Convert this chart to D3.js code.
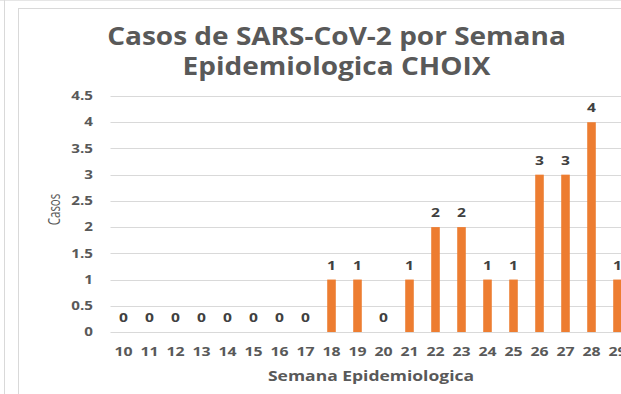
<!DOCTYPE html>
<html>
<head>
<meta charset="utf-8">
<script src="https://cdn.jsdelivr.net/npm/d3@7"></script>
<style>
  html, body { margin: 0; padding: 0; background: #fff; }
  svg { display: block; }
  text { font-family: "Open Sans", "DejaVu Sans", sans-serif; }
</style>
</head>
<body>
<svg id="chart" width="621" height="394"></svg>
<script>
// Semanas epidemiológicas y casos confirmados por semana
const weeks = [10, 11, 12, 13, 14, 15, 16, 17, 18, 19, 20, 21, 22, 23, 24, 25, 26, 27, 28, 29];
const cases = [0, 0, 0, 0, 0, 0, 0, 0, 1, 1, 0, 1, 2, 2, 1, 1, 3, 3, 4, 1];
const yTicks = [0, 0.5, 1, 1.5, 2, 2.5, 3, 3.5, 4, 4.5];
const titleLines = ["Casos de SARS-CoV-2 por Semana", "Epidemiologica CHOIX"];
const xTitle = "Semana Epidemiologica";
const yTitle = "Casos";

const svg = d3.select("#chart");
const W = 621, H = 394;
const plot = { left: 110.5, top: 96, bottom: 332, step: 26 };

// the text is set in a widened face: every label is stretched horizontally
function stretchedText(parent, x, y, sx, str) {
  return parent.append("text")
    .attr("transform", `translate(${x},${y}) scale(${sx},1)`)
    .text(str);
}

// outer sheet edges and chart frame
svg.append("line").attr("x1", 0).attr("x2", W).attr("y1", 0.5).attr("y2", 0.5)
  .attr("stroke", "#e6e6e6");
svg.append("line").attr("x1", 4.5).attr("x2", 4.5).attr("y1", 0).attr("y2", H)
  .attr("stroke", "#d9d9d9");
svg.append("rect").attr("x", 18.5).attr("y", 8.5).attr("width", W).attr("height", H)
  .attr("fill", "#fff").attr("stroke", "#d9d9d9");

const x = d3.scaleBand()
  .domain(weeks)
  .range([plot.left, plot.left + plot.step * weeks.length])
  .paddingInner(0.67)
  .paddingOuter(0.335);

const y = d3.scaleLinear().domain([0, 4.5]).range([plot.bottom, plot.top]);

// horizontal gridlines
svg.append("g")
  .selectAll("line")
  .data(yTicks)
  .join("line")
  .attr("x1", plot.left)
  .attr("x2", W)
  .attr("y1", d => Math.round(y(d)) + 0.5)
  .attr("y2", d => Math.round(y(d)) + 0.5)
  .attr("stroke", "#d9d9d9")
  .attr("stroke-width", 1);

// y axis tick labels
const yAxis = d3.axisLeft(y).tickValues(yTicks).tickSize(0).tickPadding(0)
  .tickFormat(d3.format("~g"));
const gy = svg.append("g").attr("transform", "translate(93,0)").call(yAxis);
gy.select(".domain").remove();
gy.selectAll("text")
  .attr("font-family", "Open Sans")
  .attr("font-weight", "bold")
  .attr("font-size", 11.5)
  .attr("transform", "scale(1.32,1)")
  .attr("fill", "#595959");

// x axis tick labels
const xAxis = d3.axisBottom(x).tickSize(0).tickPadding(0);
const gx = svg.append("g").attr("transform", `translate(0,${plot.bottom + 15})`).call(xAxis);
gx.select(".domain").remove();
gx.selectAll("text")
  .attr("font-family", "Open Sans")
  .attr("font-weight", "bold")
  .attr("font-size", 13)
  .attr("transform", "scale(1.22,1)")
  .attr("fill", "#595959");

// bars
const data = weeks.map((w, i) => ({ week: w, value: cases[i] }));
svg.append("g")
  .selectAll("rect")
  .data(data)
  .join("rect")
  .attr("x", d => x(d.week))
  .attr("width", x.bandwidth())
  .attr("y", d => y(d.value))
  .attr("height", d => y(0) - y(d.value))
  .attr("fill", "#ED7D31");

// value labels
const gLabels = svg.append("g")
  .attr("text-anchor", "middle")
  .attr("font-weight", "bold")
  .attr("font-size", 13)
  .attr("fill", "#404040");
data.forEach(d => {
  stretchedText(gLabels, x(d.week) + x.bandwidth() / 2, y(d.value) - 10, 1.2, d.value);
});

// title
const gTitle = svg.append("g")
  .attr("text-anchor", "middle")
  .attr("font-weight", "bold")
  .attr("font-size", 25)
  .attr("fill", "#595959");
titleLines.forEach((line, i) => {
  stretchedText(gTitle, 336.5, 45 + i * 30, 1.12, line);
});

// axis titles
stretchedText(svg, 371, 381, 1.25, xTitle)
  .attr("text-anchor", "middle")
  .attr("font-weight", "bold")
  .attr("font-size", 14)
  .attr("fill", "#595959");

svg.append("text")
  .attr("transform", "translate(59.5,209.5) scale(1.35,1) rotate(-90)")
  .attr("text-anchor", "middle")
  .attr("font-size", 11.5)
  .attr("fill", "#595959")
  .text(yTitle);
</script>
</body>
</html>
